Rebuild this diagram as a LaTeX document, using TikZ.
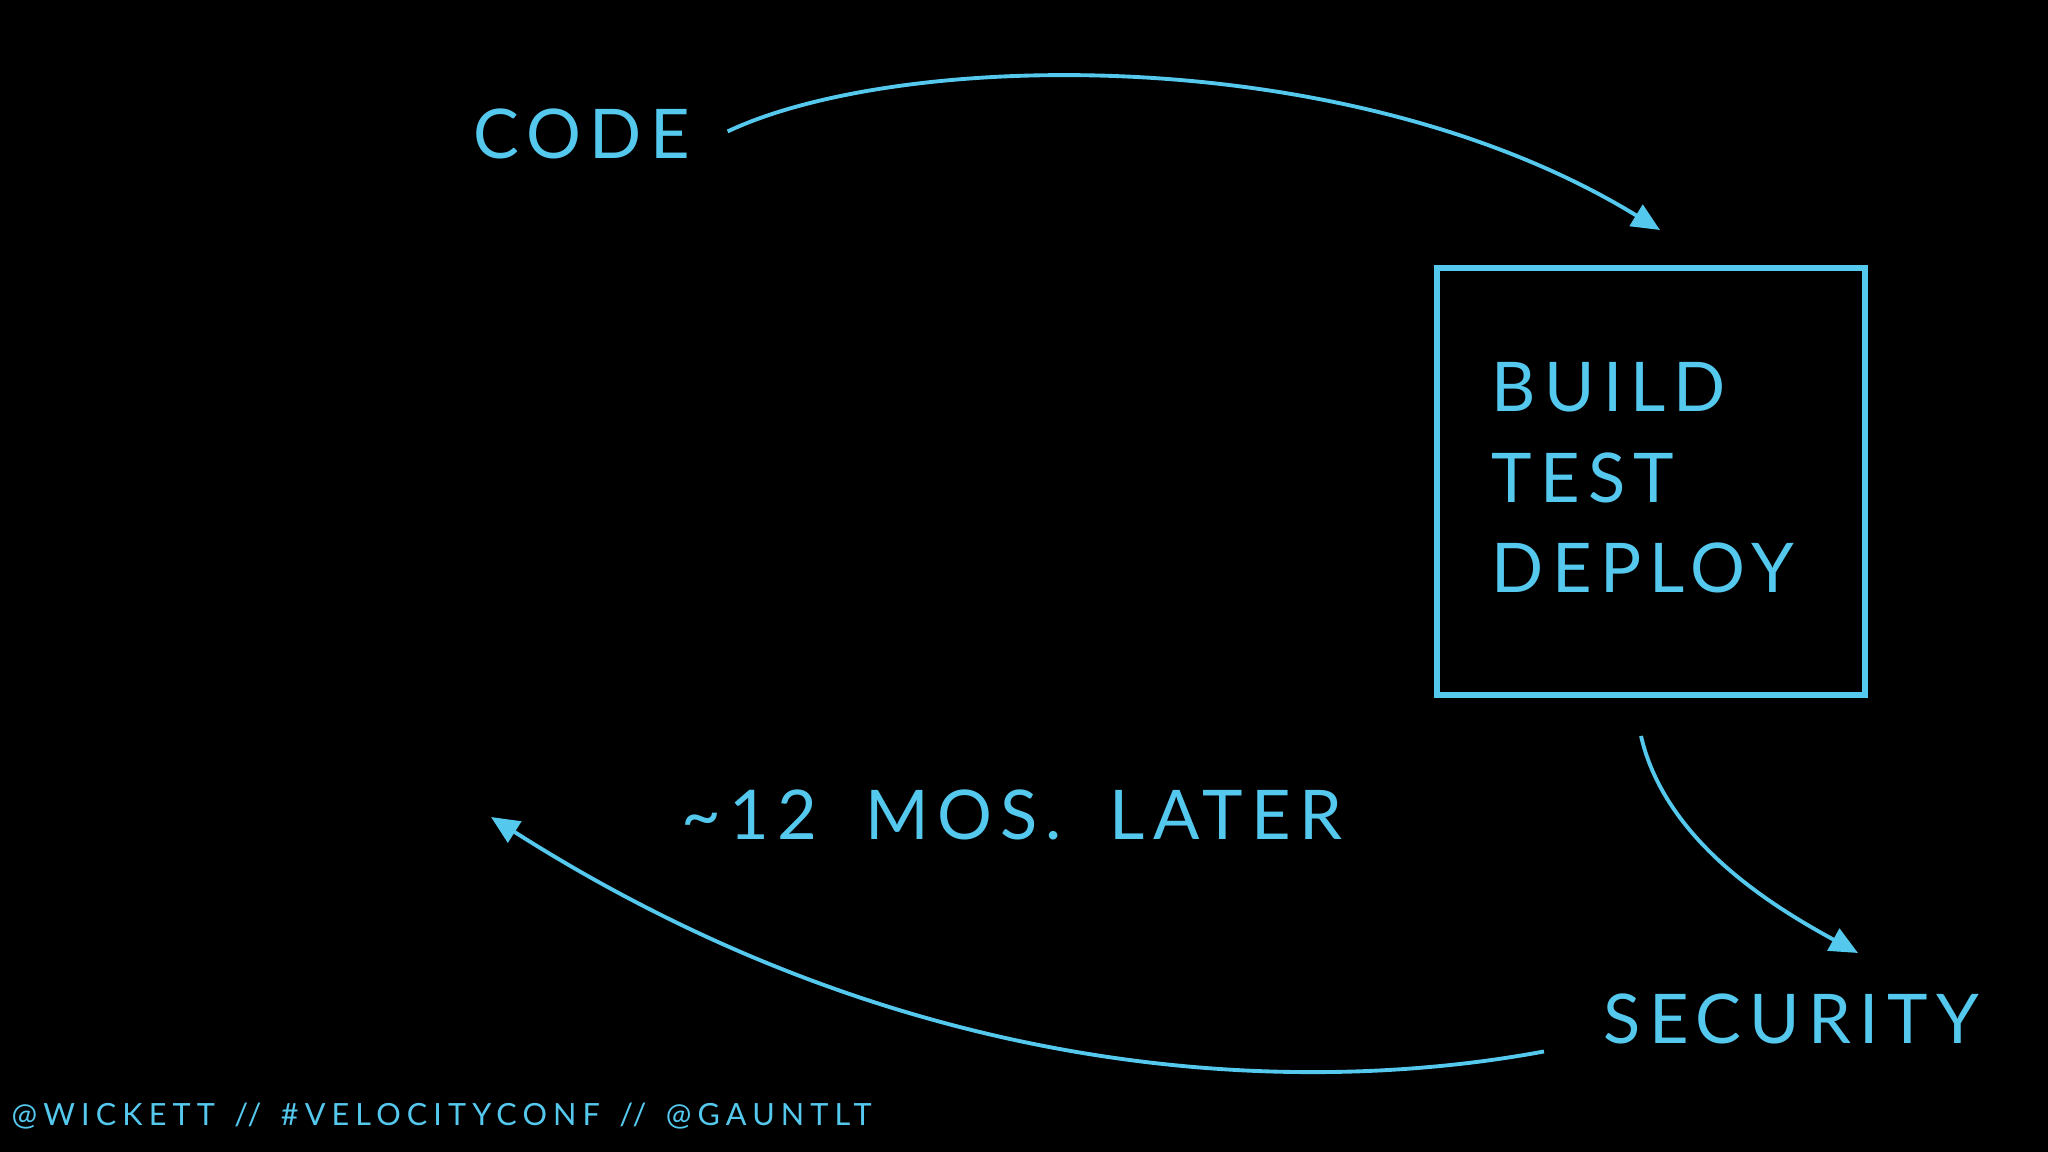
\documentclass[tikz,border=0pt]{standalone}
\usepackage{fontspec}
\setmainfont{Lato}[LetterSpace=12]
\newfontfamily\widefont{Lato}[LetterSpace=12,WordSpace=1.85]
\newfontfamily\footfont{Lato}[LetterSpace=20,WordSpace=1.4]
\usepackage{tikz}
\usetikzlibrary{arrows.meta}

\definecolor{chalk}{HTML}{55C8EE}
\tikzset{
  bigtext/.style={text=chalk, font=\fontsize{19.5}{23}\selectfont, inner sep=0pt, anchor=base west},
  smalltext/.style={text=chalk, font=\footfont\fontsize{8.7}{10}\selectfont, inner sep=0pt, anchor=base west},
  flow/.style={draw=chalk, line width=1.1pt, -{Triangle[length=8pt,width=7pt]}},
  stagebox/.style={draw=chalk, line width=1.6pt, minimum width=4.28cm, minimum height=4.27cm, inner sep=0pt}
}

\begin{document}
\begin{tikzpicture}[x=0.01cm,y=-0.01cm]
  \fill[black] (0,0) rectangle (2048,1152);
  \useasboundingbox (0,0) rectangle (2048,1152);

  % words
  \node[bigtext] (code) at (473,159) {CODE};
  \node[stagebox] (box) at (1651,481.5) {};
  \node[bigtext] (build) at (1491,412) {BUILD};
  \node[bigtext] (test) at (1491,502) {TEST};
  \node[bigtext] (deploy) at (1491,593) {DEPLOY};
  \node[bigtext] (security) at (1603,1043) {SECURITY};
  \node[bigtext, font=\widefont\fontsize{19.5}{23}\selectfont] (later) at (681,839) {\textasciitilde12 MOS. LATER};
  \node[smalltext] (handles) at (11,1125) {@WICKETT // \#VELOCITYCONF // @GAUNTLT};

  % arrow ends
  \coordinate (codeend) at (1660,230);
  \coordinate (secend) at (1858,953);
  \coordinate (laterend) at (491,817);

  \draw[flow] ([xshift=0.37cm,yshift=0.03cm]code.east) .. controls (900,50) and (1350,40) .. (codeend);
  \draw[flow] ([xshift=-0.1cm,yshift=-0.38cm]box.south) .. controls (1665,840) and (1770,905) .. (secend);
  \draw[flow] ([xshift=-0.59cm,yshift=-0.33cm]security.west) .. controls (1310,1095) and (920,1090) .. (laterend);
\end{tikzpicture}
\end{document}
